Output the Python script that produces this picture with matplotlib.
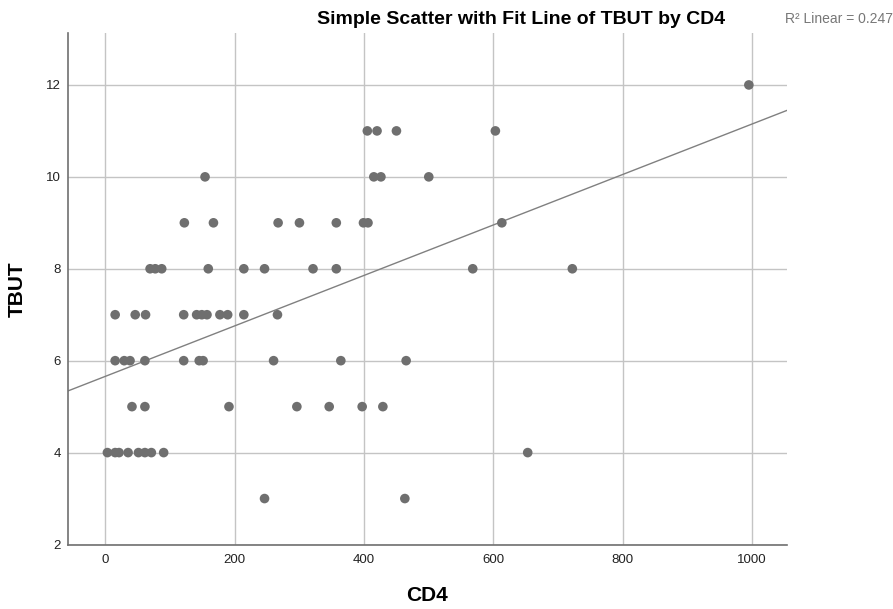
import matplotlib
matplotlib.use("Agg")
import matplotlib.pyplot as plt
import numpy as np

# CD4 values grouped by TBUT row
cd4_by_tbut = {
    12: [995],
    11: [405, 420, 450, 603],
    10: [154, 415, 426, 500],
    9: [122, 167, 267, 300, 357, 399, 406, 613],
    8: [69, 77, 87, 159, 214, 246, 321, 357, 568, 722],
    7: [15, 46, 62, 121, 141, 149, 157, 177, 189, 214, 266],
    6: [15, 29, 38, 61, 121, 145, 151, 260, 364, 465],
    5: [41, 61, 191, 296, 346, 397, 429],
    4: [3, 15, 21, 35, 51, 61, 71, 90, 653],
    3: [246, 463],
}
# fit line as drawn in the picture (intercept, slope)
fit_intercept = 5.66
fit_slope = 0.00549
x_ticks = [0, 200, 400, 600, 800, 1000]
y_ticks = [2, 4, 6, 8, 10, 12]
r2_label = "R\u00b2 Linear = 0.247"

cd4 = np.array([v for k in cd4_by_tbut for v in cd4_by_tbut[k]], dtype=float)
tbut = np.array([k for k in cd4_by_tbut for _ in cd4_by_tbut[k]], dtype=float)

plt.rcParams["font.family"] = ["Liberation Sans", "DejaVu Sans"]

fig = plt.figure(figsize=(8.93, 6.09), dpi=100)
ax = fig.add_axes([0.0761, 0.1059, 0.8052, 0.8399])

xmin, xmax = -58, 1054
ax.set_xlim(xmin, xmax)
ax.set_ylim(2, 13.13)

ax.grid(True, color="#c4c4c4", lw=1.0)
ax.set_axisbelow(True)

ax.scatter(cd4, tbut, s=48, color="#6f6f6f", edgecolors="none", zorder=3)

xs = np.array([xmin, xmax])
ax.plot(xs, fit_intercept + fit_slope * xs, color="#808080", lw=1.0, zorder=2)

ax.set_xticks(x_ticks)
ax.set_yticks(y_ticks)
ax.tick_params(length=0, labelsize=9.5, colors="#222222")
ax.tick_params(axis="y", pad=5)
ax.tick_params(axis="x", pad=7)
for side in ("top", "right"):
    ax.spines[side].set_visible(False)
for side in ("left", "bottom"):
    ax.spines[side].set_color("#707070")
    ax.spines[side].set_linewidth(1.2)

ax.set_xlabel("CD4", fontsize=15, fontweight="bold", labelpad=14)
ax.set_ylabel("TBUT", fontsize=15, fontweight="bold", labelpad=14)

fig.text(521 / 893, 1 - 19 / 609, "Simple Scatter with Fit Line of TBUT by CD4",
         ha="center", va="center", fontsize=14, fontweight="bold")
fig.text(785 / 893, 1 - 19 / 609, r2_label, ha="left", va="center",
         fontsize=10, color="#777777")

fig.savefig("out.png", dpi=100)
